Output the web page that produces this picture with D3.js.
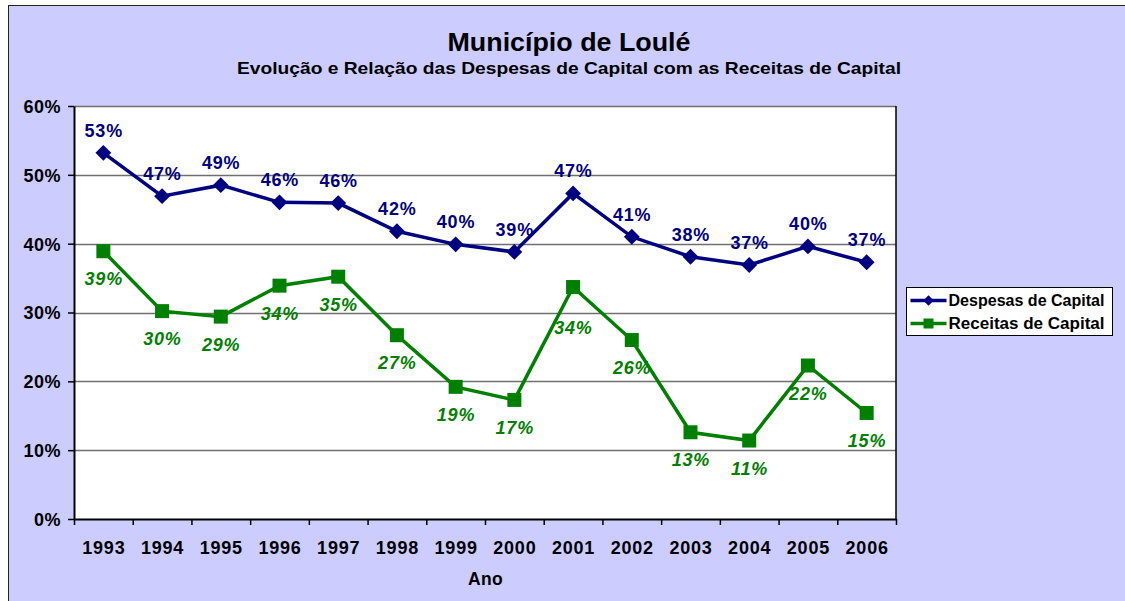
<!DOCTYPE html>
<html>
<head>
<meta charset="utf-8">
<script src="https://cdn.jsdelivr.net/npm/d3@7"></script>
<style>
  body { margin: 0; background: #fff; }
  svg { display: block; font-family: Arial, "Liberation Sans", sans-serif; }
</style>
</head>
<body>
<svg id="chart"></svg>
<script>
const years = ['1993','1994','1995','1996','1997','1998','1999','2000','2001','2002','2003','2004','2005','2006'];
const despesas = [53.2, 46.9, 48.5, 46.0, 45.9, 41.8, 39.9, 38.8, 47.3, 41.0, 38.1, 36.9, 39.6, 37.3];
const receitas = [38.9, 30.2, 29.4, 33.9, 35.2, 26.7, 19.2, 17.3, 33.7, 26.0, 12.6, 11.4, 22.3, 15.4];
const yTicks = [0, 10, 20, 30, 40, 50, 60];
const seriesNames = ['Despesas de Capital', 'Receitas de Capital'];

const W = 1125, H = 601;
const margin = {top: 106, left: 74, right: 229, bottom: 82};
const width = W - margin.left - margin.right;
const height = H - margin.top - margin.bottom;

const svg = d3.select('#chart').attr('width', W).attr('height', H);

// outer frame
svg.append('rect').attr('x', 8.5).attr('y', 5.5).attr('width', W).attr('height', H)
  .attr('fill', '#ccccff').attr('stroke', '#222').attr('stroke-width', 1);

svg.append('text').attr('x', 569).attr('y', 51).attr('text-anchor', 'middle')
  .attr('textLength', 243).attr('lengthAdjust', 'spacingAndGlyphs')
  .style('font-size', '25px').style('font-weight', 'bold').text('Município de Loulé');
svg.append('text').attr('x', 569).attr('y', 74).attr('text-anchor', 'middle')
  .attr('textLength', 664).attr('lengthAdjust', 'spacingAndGlyphs')
  .style('font-size', '16.5px').style('font-weight', 'bold')
  .text('Evolução e Relação das Despesas de Capital com as Receitas de Capital');

const g = svg.append('g').attr('transform', `translate(${margin.left},${margin.top})`);

const x = d3.scaleBand().domain(years).range([0, width]);
const y = d3.scaleLinear().domain([0, 60]).range([height, 0]);

g.append('rect').attr('width', width).attr('height', height).attr('fill', '#fff');

// gridlines
g.selectAll('.grid').data(yTicks.filter(d => d > 0)).join('line')
  .attr('x1', 0).attr('x2', width)
  .attr('y1', d => Math.round(y(d)) + 0.5).attr('y2', d => Math.round(y(d)) + 0.5)
  .attr('stroke', '#6f6f6f').attr('stroke-width', 1.5);

g.append('line').attr('x1', width).attr('x2', width).attr('y1', 0).attr('y2', height)
  .attr('stroke', '#000').attr('stroke-width', 1.5);

// axes
const yAxis = g.append('g')
  .call(d3.axisLeft(y).tickValues(yTicks).tickFormat(d => d + '%').tickSize(6).tickSizeOuter(0));
const xAxis = g.append('g').attr('transform', `translate(0,${height})`)
  .call(d3.axisBottom(d3.scaleLinear().domain([0, years.length]).range([0, width]))
    .tickValues(d3.range(years.length + 1)).tickFormat('').tickSize(6).tickSizeOuter(0));
[yAxis, xAxis].forEach(a => {
  a.select('.domain').attr('stroke', '#000').attr('stroke-width', 2);
  a.selectAll('.tick line').attr('stroke', '#000').attr('stroke-width', 1.5);
});
yAxis.selectAll('.tick text').attr('x', -13).attr('dy', '0.36em')
  .style('font-size', '18px').style('font-weight', 'bold').style('letter-spacing', '0.5px')
  .attr('fill', '#000');

g.selectAll('.xlab').data(years).join('text')
  .attr('x', d => x(d) + x.bandwidth() / 2 + 0.5).attr('y', height + 35)
  .attr('text-anchor', 'middle').style('font-size', '18px').style('font-weight', 'bold')
  .style('letter-spacing', '0.8px').text(d => d);

g.append('text').attr('x', width / 2 + 0.5).attr('y', height + 66).attr('text-anchor', 'middle')
  .style('font-size', '17.5px').style('font-weight', 'bold').style('letter-spacing', '0.3px').text('Ano');

const cx = d => x(d) + x.bandwidth() / 2;
const line = d3.line().x(d => cx(d.year)).y(d => y(d.v));

const blue = '#000080', green = '#008000';
const dData = years.map((yr, i) => ({year: yr, v: despesas[i]}));
const rData = years.map((yr, i) => ({year: yr, v: receitas[i]}));

g.append('path').datum(rData).attr('d', line).attr('fill', 'none')
  .attr('stroke', green).attr('stroke-width', 3.5);
g.selectAll('.rpt').data(rData).join('rect')
  .attr('x', d => cx(d.year) - 7).attr('y', d => y(d.v) - 7)
  .attr('width', 14).attr('height', 14).attr('fill', green);

g.append('path').datum(dData).attr('d', line).attr('fill', 'none')
  .attr('stroke', blue).attr('stroke-width', 3.5);
const diamond = d3.symbol().type(d3.symbolDiamond2).size(160);
g.selectAll('.dpt').data(dData).join('path')
  .attr('d', diamond)
  .attr('transform', d => `translate(${cx(d.year)},${y(d.v)})`).attr('fill', blue);

// data labels (2001 receitas label sits lower in the original, clear of the line)
const labelDrop = yr => (yr === '2001' ? 13 : 0);
g.selectAll('.dlab').data(dData).join('text')
  .attr('x', d => cx(d.year) + 0.4).attr('y', d => y(d.v) - 16)
  .attr('text-anchor', 'middle').style('font-size', '18px').style('font-weight', 'bold')
  .style('letter-spacing', '0.8px').attr('fill', blue).text(d => Math.round(d.v) + '%');
g.selectAll('.rlab').data(rData).join('text')
  .attr('x', d => cx(d.year) + 0.4).attr('y', d => y(d.v) + 34 + labelDrop(d.year))
  .attr('text-anchor', 'middle').style('font-size', '18px').style('font-weight', 'bold')
  .style('letter-spacing', '0.8px').style('font-style', 'italic').attr('fill', green)
  .text(d => Math.round(d.v) + '%');

// legend
const leg = svg.append('g').attr('transform', 'translate(906.5,287.5)');
leg.append('rect').attr('width', 206).attr('height', 48).attr('fill', '#fff')
  .attr('stroke', '#000').attr('stroke-width', 1);
const legItems = leg.selectAll('.li').data(seriesNames).join('g')
  .attr('transform', (d, i) => `translate(0,${13 + i * 23})`);
legItems.append('line').attr('x1', 4).attr('x2', 40).attr('stroke', (d, i) => i ? green : blue)
  .attr('stroke-width', 3.5);
legItems.filter((d, i) => i === 0).append('path').attr('d', d3.symbol().type(d3.symbolDiamond2).size(70))
  .attr('transform', 'translate(22,0)').attr('fill', blue);
legItems.filter((d, i) => i === 1).append('rect').attr('x', 17).attr('y', -5)
  .attr('width', 10).attr('height', 10).attr('fill', green);
legItems.append('text').attr('x', 42).attr('dy', '0.36em')
  .attr('textLength', 156).attr('lengthAdjust', 'spacingAndGlyphs')
  .style('font-size', '16px').style('font-weight', 'bold')
  .text(d => d);
</script>
</body>
</html>
